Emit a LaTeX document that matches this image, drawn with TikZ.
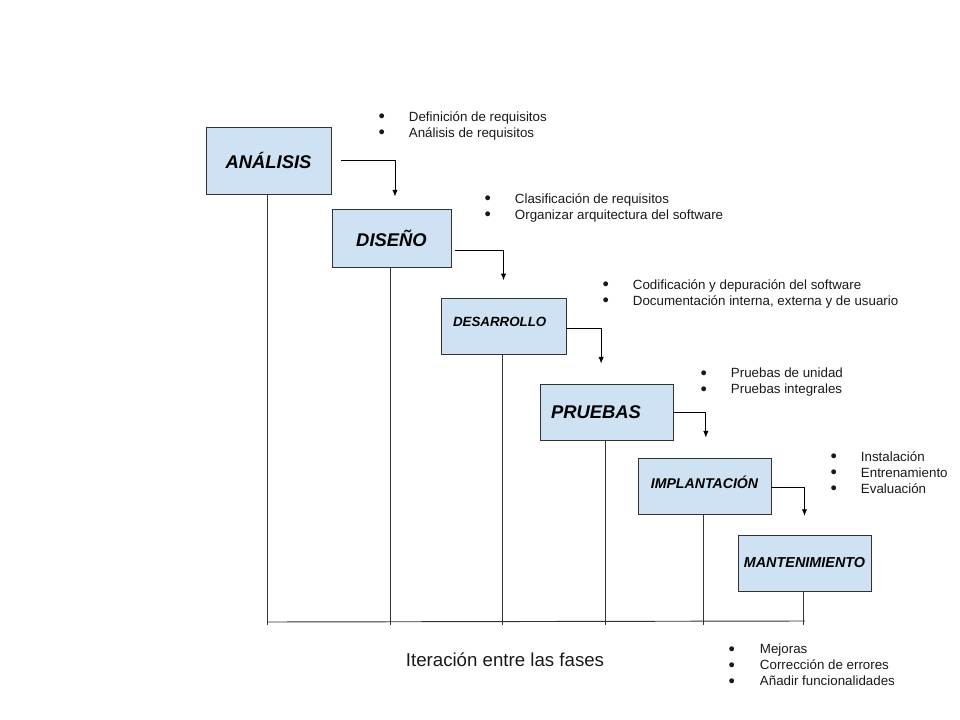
\documentclass[tikz,border=0pt]{standalone}
\usepackage{fontspec}
\setmainfont{Liberation Sans}
\usepackage{tikz}
\usetikzlibrary{positioning,calc,arrows.meta}
\definecolor{azulfase}{HTML}{CFE2F3}
\newcommand{\vineta}[1][23pt]{\makebox[#1][l]{\raisebox{1pt}{\fontsize{8.5}{12}\selectfont ●}}}

\begin{document}
\begin{tikzpicture}[x=0.75pt,y=-0.75pt,
    fase/.style={draw=black!80, fill=azulfase, line width=0.6pt, inner sep=0pt, font=\bfseries\itshape},
    linea/.style={draw=black!80, line width=0.7pt},
    flecha/.style={draw=black, line width=0.7pt, -{Latex[length=5pt,width=4pt]}},
    lista/.style={anchor=north west, align=left, inner sep=0pt, text=black!90, font=\fontsize{10}{12}\selectfont}]
    \useasboundingbox (0,0) rectangle (960,720);

    % Fases del modelo en cascada
    \node[fase, minimum width=93.75pt, minimum height=50.25pt, font=\bfseries\itshape\fontsize{13.8}{16}\selectfont] (ana) at (268.5,160.5) {ANÁLISIS};
    \node[fase, minimum width=89.25pt, minimum height=43.5pt, font=\bfseries\itshape\fontsize{13.8}{16}\selectfont] (dis) at (391.5,238) {DISEÑO};
    \node[fase, minimum width=93.75pt, minimum height=42pt, text width=75.75pt, align=left, text depth=6pt, font=\bfseries\itshape\fontsize{10}{12}\selectfont] (des) at (503.5,326) {DESARROLLO};
    \node[fase, minimum width=99.75pt, minimum height=42pt, text width=83.25pt, align=left, font=\bfseries\itshape\fontsize{13.8}{16}\selectfont] (pru) at (606.5,412) {PRUEBAS};
    \node[fase, minimum width=99.75pt, minimum height=42pt, text depth=5pt, font=\bfseries\itshape\fontsize{10.6}{12}\selectfont] (imp) at (704.5,486) {IMPLANTACIÓN};
    \node[fase, minimum width=99.75pt, minimum height=42pt, font=\bfseries\itshape\fontsize{10.8}{12}\selectfont] (man) at (804.5,563) {MANTENIMIENTO};

    % Actividades de cada fase
    \node[lista] (l1) at (378,111) {\vineta Definición de requisitos\\ \vineta Análisis de requisitos};
    \node[lista] (l2) at (484,193) {\vineta Clasificación de requisitos\\ \vineta Organizar arquitectura del software};
    \node[lista] (l3) at (602,279) {\vineta Codificación y depuración del software\\ \vineta Documentación interna, externa y de usuario};
    \node[lista] (l4) at (700,368) {\vineta Pruebas de unidad\\ \vineta Pruebas integrales};
    \node[lista] (l5) at (830,451) {\vineta Instalación\\ \vineta Entrenamiento\\ \vineta Evaluación};
    \node[lista] (l6) at (728,644) {\vineta[21pt] Mejoras\\ \vineta[21pt] Corrección de errores\\ \vineta[21pt] Añadir funcionalidades};

    % Paso de una fase a la siguiente
    \draw[flecha] ([xshift=7.5pt]ana.east) -| ([xshift=2.6pt,yshift=9pt]dis.north);
    \draw[flecha] ([xshift=3pt,yshift=-9pt]dis.east) -| ([yshift=13pt]des.north);
    \draw[flecha] ([yshift=-1.5pt]des.east) -| ([xshift=-4pt,yshift=15pt]pru.north);
    \draw[flecha] (pru.east) -| ([xshift=1pt,yshift=15pt]imp.north);
    \draw[flecha] ([yshift=-0.75pt]imp.east) -| ([yshift=14pt]man.north);

    % Iteracion entre las fases
    \coordinate (bi) at (267,622);
    \coordinate (bd) at (805,621);
    \coordinate (pie) at (0,625);
    \draw[linea] (bi) -- (bd);
    \foreach \f in {ana,dis,des,pru,imp,man}
        \draw[linea] ([xshift=-0.75pt]\f.south) -- ([xshift=-0.75pt]\f.south |- pie);
    \node[font=\fontsize{14}{16}\selectfont, text=black!90] (iter) at (505,660) {Iteración entre las fases};
\end{tikzpicture}
\end{document}
